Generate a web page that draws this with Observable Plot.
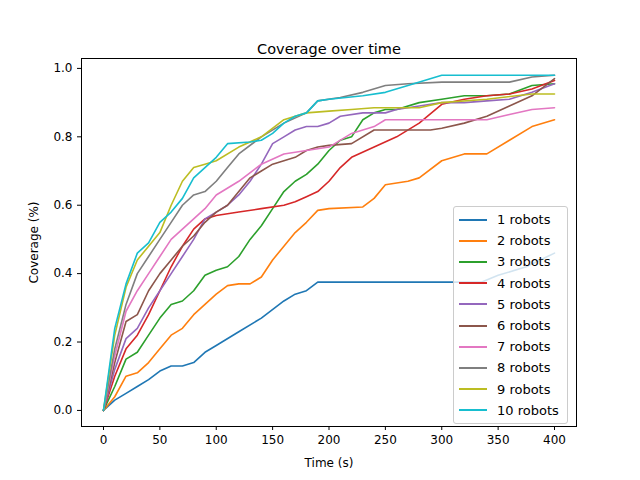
<!DOCTYPE html>
<html>
<head>
<meta charset="utf-8">
<script src="https://cdn.jsdelivr.net/npm/d3@7"></script>
<script src="https://cdn.jsdelivr.net/npm/@observablehq/plot@0.6"></script>
<style>
  body { margin: 0; background: white; font-family: "DejaVu Sans", sans-serif; }
  #wrap { position: relative; width: 640px; height: 480px; }
  #legend { position: absolute; left: 453px; top: 206px; width: 113px; padding: 2px 0;
            border: 1px solid #ccc; border-radius: 3px; background: rgba(255,255,255,0.8);
            font-size: 13px; color: #000; }
  #legend div { display: flex; align-items: center; height: 21.2px; }
  #legend span.sw { display: inline-block; width: 28px; height: 2px; margin: 0 10px 0 5px; }
</style>
</head>
<body>
<div id="wrap"><div id="chart"></div><div id="legend"></div></div>
<script>
// Coverage readings per robot count: [time (s), coverage]
const robots1 = [[0,0],[10,.03],[20,.05],[30,.07],[40,.09],[50,.115],[60,.13],[70,.13],[80,.14],[90,.17],[100,.19],[120,.23],[140,.27],[160,.32],[170,.34],[180,.35],[190,.375],[250,.375],[300,.375],[335,.375],[350,.395],[375,.42],[400,.46]];
const robots2 = [[0,0],[10,.04],[20,.1],[30,.11],[40,.14],[50,.18],[60,.22],[70,.24],[80,.28],[90,.31],[100,.34],[110,.365],[120,.37],[130,.37],[140,.39],[150,.44],[160,.48],[170,.52],[180,.55],[190,.585],[200,.59],[230,.595],[240,.62],[250,.66],[270,.67],[280,.68],[300,.73],[320,.75],[340,.75],[360,.79],[380,.83],[400,.85]];
const robots3 = [[0,0],[10,.07],[20,.15],[30,.17],[40,.22],[50,.27],[60,.31],[70,.32],[80,.35],[90,.395],[100,.41],[110,.42],[120,.45],[130,.5],[140,.54],[150,.59],[160,.64],[170,.67],[180,.69],[190,.72],[200,.76],[210,.79],[220,.8],[230,.85],[240,.87],[250,.88],[260,.88],[280,.9],[300,.91],[320,.92],[340,.92],[360,.925],[380,.95],[400,.955]];
const robots4 = [[0,0],[10,.1],[20,.18],[30,.22],[40,.28],[50,.35],[60,.42],[70,.48],[80,.53],[90,.56],[100,.57],[120,.58],[140,.59],[160,.6],[170,.61],[180,.625],[190,.64],[200,.67],[210,.71],[220,.74],[240,.77],[260,.8],[280,.84],[300,.895],[320,.91],[340,.92],[360,.925],[380,.94],[400,.965]];
const robots5 = [[0,0],[10,.12],[20,.21],[30,.24],[40,.3],[50,.35],[60,.4],[70,.45],[80,.5],[90,.56],[100,.58],[110,.6],[120,.63],[130,.67],[140,.72],[150,.78],[160,.8],[170,.82],[180,.83],[190,.83],[200,.84],[210,.86],[230,.87],[250,.87],[260,.88],[280,.89],[300,.9],[320,.9],[340,.905],[360,.91],[380,.93],[400,.955]];
const robots6 = [[0,0],[10,.14],[20,.26],[30,.28],[40,.35],[50,.4],[60,.44],[70,.48],[80,.51],[90,.55],[100,.58],[110,.6],[120,.64],[130,.68],[140,.7],[150,.72],[160,.73],[170,.74],[180,.76],[190,.77],[200,.775],[220,.78],[240,.82],[260,.82],[290,.82],[300,.825],[320,.84],[340,.86],[360,.89],[380,.92],[400,.97]];
const robots7 = [[0,0],[10,.16],[20,.29],[30,.35],[40,.4],[50,.45],[60,.5],[70,.53],[80,.56],[90,.59],[100,.63],[120,.67],[140,.72],[160,.75],[180,.76],[200,.77],[220,.81],[240,.83],[250,.85],[300,.85],[340,.85],[360,.865],[380,.88],[400,.885]];
const robots8 = [[0,0],[10,.18],[20,.31],[30,.4],[40,.45],[50,.5],[60,.55],[70,.6],[80,.63],[90,.64],[100,.67],[110,.71],[120,.75],[140,.8],[160,.84],[180,.87],[190,.905],[210,.915],[230,.93],[250,.95],[270,.955],[300,.96],[360,.96],[380,.975],[400,.98]];
const robots9 = [[0,0],[10,.22],[20,.36],[30,.44],[40,.48],[50,.52],[60,.6],[70,.67],[80,.71],[90,.72],[100,.73],[120,.77],[140,.8],[160,.85],[180,.87],[200,.875],[220,.88],[240,.885],[280,.885],[300,.9],[340,.91],[380,.925],[400,.925]];
const robots10 = [[0,0],[10,.24],[20,.37],[30,.46],[40,.49],[50,.55],[60,.58],[70,.62],[80,.68],[90,.71],[100,.74],[110,.78],[130,.785],[140,.79],[150,.81],[160,.84],[170,.86],[180,.87],[190,.905],[200,.91],[230,.92],[250,.93],[270,.95],[300,.98],[400,.98]];

const seriesNames = ["1 robots","2 robots","3 robots","4 robots","5 robots","6 robots","7 robots","8 robots","9 robots","10 robots"];
const seriesData = [robots1,robots2,robots3,robots4,robots5,robots6,robots7,robots8,robots9,robots10];
const colors = ["#1f77b4","#ff7f0e","#2ca02c","#d62728","#9467bd","#8c564b","#e377c2","#7f7f7f","#bcbd22","#17becf"];
const xTicks = [0,50,100,150,200,250,300,350,400];
const yTicks = [0,0.2,0.4,0.6,0.8,1.0];

const rows = seriesData.flatMap((s, i) => s.map(([t, c]) => ({t, c, name: seriesNames[i]})));

const plot = Plot.plot({
  width: 640,
  height: 480,
  marginLeft: 81,
  marginRight: 64,
  marginTop: 58,
  marginBottom: 54,
  style: {fontFamily: "DejaVu Sans, sans-serif", fontSize: "12px", color: "#000", background: "white"},
  x: {domain: [-19.5, 419.5], ticks: xTicks, tickSize: 4, label: "Time (s)", labelAnchor: "center", labelOffset: 40},
  y: {domain: [-0.047, 1.029], ticks: yTicks, tickFormat: d3.format(".1f"), tickSize: 4, label: "Coverage (%)", labelAnchor: "center", labelOffset: 52},
  color: {domain: seriesNames, range: colors},
  marks: [
    Plot.lineY(rows, {x: "t", y: "c", z: "name", stroke: "name", strokeWidth: 1.6}),
    Plot.frame({stroke: "#000", strokeWidth: 1}),
    Plot.axisX({ticks: xTicks, tickSize: 4, label: "Time (s)", labelAnchor: "center", labelArrow: "none", labelOffset: 40, fontSize: 12}),
    Plot.axisY({ticks: yTicks, tickSize: 4, tickFormat: d3.format(".1f"), label: "Coverage (%)", labelAnchor: "center", labelArrow: "none", labelOffset: 52, fontSize: 12}),
    Plot.text(["Coverage over time"], {frameAnchor: "top", dy: -15, fontSize: 14.5, fill: "#000"})
  ]
});
document.getElementById("chart").appendChild(plot);

const legend = document.getElementById("legend");
seriesNames.forEach((n, i) => {
  const row = document.createElement("div");
  row.innerHTML = `<span class="sw" style="background:${colors[i]}"></span>${n}`;
  legend.appendChild(row);
});
</script>
</body>
</html>
